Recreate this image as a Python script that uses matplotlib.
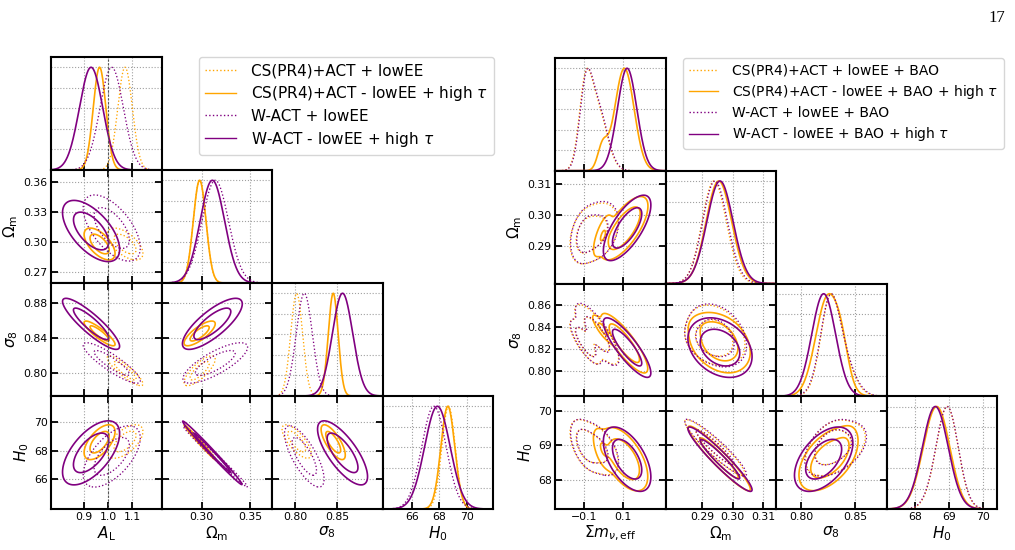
import numpy as np
import matplotlib
matplotlib.use('Agg')
import matplotlib.pyplot as plt
from matplotlib.lines import Line2D

W, H = 1015, 550

# ---------------- data ----------------
colors = ['#FFA500', '#FFA500', '#800080', '#800080']
styles = [':', '-', ':', '-']

left_names = ['CS(PR4)+ACT + lowEE', r'CS(PR4)+ACT - lowEE + high $\tau$',
              'W-ACT + lowEE', r'W-ACT - lowEE + high $\tau$']
left_labels = [r'$A_{\rm L}$', r'$\Omega_{\rm m}$', r'$\sigma_8$', r'$H_0$']
left_limits = [(0.765, 1.22), (0.259, 0.372), (0.773, 0.903), (63.9, 71.85)]
left_xticks = [[0.9, 1.0, 1.1], [0.30, 0.35], [0.80, 0.85], [66, 68, 70]]
left_yticks = [[], [0.27, 0.30, 0.33, 0.36], [0.80, 0.84, 0.88], [66, 68, 70]]
left_weights = [[1.0], [1.0], [1.0], [1.0]]
left_means = [[[1.07, 0.298, 0.802, 68.65]],
              [[0.965, 0.298, 0.845, 68.6]],
              [[1.015, 0.314, 0.811, 67.6]],
              [[0.93, 0.311, 0.856, 67.85]]]
left_sigmas = [[[0.03, 0.0065, 0.007, 0.48]],
               [[0.026, 0.0065, 0.0058, 0.5]],
               [[0.048, 0.0135, 0.0095, 0.88]],
               [[0.048, 0.0125, 0.012, 0.92]]]
left_corr_all = [[1.0, -0.6, -0.88, 0.6],
                 [-0.6, 1.0, 0.78, -0.993],
                 [-0.88, 0.78, 1.0, -0.74],
                 [0.6, -0.993, -0.74, 1.0]]
left_corrs = [left_corr_all] * 4

right_names = ['CS(PR4)+ACT + lowEE + BAO', r'CS(PR4)+ACT - lowEE + BAO + high $\tau$',
               'W-ACT + lowEE + BAO', r'W-ACT - lowEE + BAO + high $\tau$']
right_labels = [r'$\Sigma m_{\nu,\rm eff}$', r'$\Omega_{\rm m}$', r'$\sigma_8$', r'$H_0$']
right_limits = [(-0.25, 0.32), (0.2779, 0.3142), (0.777, 0.879), (67.16, 70.42)]
right_xticks = [[-0.1, 0.1], [0.29, 0.30, 0.31], [0.80, 0.85], [68, 69, 70]]
right_yticks = [[], [0.29, 0.30, 0.31], [0.80, 0.82, 0.84, 0.86], [68, 69, 70]]
right_weights = [[0.6, 0.4], [0.9, 0.1], [0.6, 0.4], [1.0]]
right_means = [[[-0.035, 0.2945, 0.833, 68.9], [-0.095, 0.2932, 0.826, 69.0]],
               [[0.108, 0.2957, 0.825, 68.6], [-0.005, 0.2935, 0.838, 68.9]],
               [[-0.032, 0.2948, 0.833, 68.9], [-0.092, 0.2935, 0.826, 69.0]],
               [[0.122, 0.2958, 0.821, 68.6]]]
right_sigmas = [[[0.05, 0.0042, 0.012, 0.34], [0.032, 0.0036, 0.008, 0.3]],
                [[0.05, 0.0042, 0.0112, 0.38], [0.025, 0.0035, 0.006, 0.3]],
                [[0.05, 0.0043, 0.0125, 0.35], [0.032, 0.0037, 0.0082, 0.3]],
                [[0.05, 0.0043, 0.011, 0.38]]]
right_corr_dotted = [[1.0, 0.3, -0.8, -0.5],
                     [0.3, 1.0, -0.3, -0.93],
                     [-0.8, -0.3, 1.0, 0.45],
                     [-0.5, -0.93, 0.45, 1.0]]
right_corr_solid = [[1.0, 0.7, -0.85, -0.55],
                    [0.7, 1.0, -0.3, -0.95],
                    [-0.85, -0.3, 1.0, 0.5],
                    [-0.55, -0.95, 0.5, 1.0]]
right_corrs = [right_corr_dotted, right_corr_solid, right_corr_dotted, right_corr_solid]


def gauss1(x, m, s):
    return np.exp(-0.5 * ((x - m) / s) ** 2) / s


def gauss2(X, Y, mx, my, sx, sy, r):
    dx = (X - mx) / sx
    dy = (Y - my) / sy
    z = (dx * dx - 2 * r * dx * dy + dy * dy) / (1 - r * r)
    return np.exp(-0.5 * z) / (sx * sy * np.sqrt(1 - r * r))


def hpd_levels(Z, probs=(0.95, 0.68)):
    z = np.sort(Z.ravel())[::-1]
    c = np.cumsum(z)
    c /= c[-1]
    return [z[np.searchsorted(c, p)] for p in probs]


def line_width(k):
    return 1.2 if styles[k] == '-' else 0.95


fig = plt.figure(figsize=(W / 100, H / 100), dpi=100)


def style_axes(ax):
    for sp in ax.spines.values():
        sp.set_linewidth(1.5)
    ax.grid(True, ls=':', color='#a0a0a0', lw=0.8)
    ax.set_axisbelow(True)


def draw_triangle(x0, y0, pw, ph, labels, limits, xticks, yticks,
                  weights, means, sigmas, corrs, vline=None):
    n = len(labels)
    for row in range(n):
        for col in range(row + 1):
            ax = fig.add_axes([(x0 + col * pw) / W, 1 - (y0 + (row + 1) * ph) / H,
                               pw / W, ph / H])
            style_axes(ax)
            lo, hi = limits[col]
            if row == col:
                x = np.linspace(lo, hi, 500)
                for k in range(4):
                    p = sum(w * gauss1(x, m[col], s[col])
                            for w, m, s in zip(weights[k], means[k], sigmas[k]))
                    ax.plot(x, p / p.max(), color=colors[k], ls=styles[k], lw=line_width(k))
                ax.set_ylim(0, 1.1)
                ax.set_yticks([0.2, 0.4, 0.6, 0.8, 1.0])
                ax.tick_params(axis='y', length=0, labelleft=False)
                ax.tick_params(axis='x', direction='in', length=5, width=1.3,
                               bottom=True, top=False)
            else:
                ylo, yhi = limits[row]
                gx = np.linspace(lo - 0.3 * (hi - lo), hi + 0.3 * (hi - lo), 300)
                gy = np.linspace(ylo - 0.3 * (yhi - ylo), yhi + 0.3 * (yhi - ylo), 300)
                X, Y = np.meshgrid(gx, gy)
                for k in range(4):
                    c = corrs[k]
                    Z = sum(w * gauss2(X, Y, m[col], m[row], s[col], s[row], c[col][row])
                            for w, m, s in zip(weights[k], means[k], sigmas[k]))
                    ax.contour(X, Y, Z, levels=hpd_levels(Z), colors=colors[k],
                               linestyles=styles[k], linewidths=line_width(k))
                ax.set_ylim(ylo, yhi)
                ax.set_yticks(yticks[row])
                ax.tick_params(direction='in', length=5, width=1.3,
                               top=True, right=True, labelsize=7.8, pad=2.5)
                if col == 0:
                    ax.set_ylabel(labels[row], fontsize=11, labelpad=2)
                else:
                    ax.tick_params(labelleft=False)
            ax.set_xlim(lo, hi)
            ax.set_xticks(xticks[col])
            ax.tick_params(axis='x', labelsize=7.8, pad=2.5)
            if row == n - 1:
                ax.set_xlabel(labels[col], fontsize=11, labelpad=1)
            else:
                ax.tick_params(labelbottom=False)
            if vline is not None and col == 0:
                ax.axvline(vline, color='#555555', ls=(0, (2, 1.5)), lw=0.8)


draw_triangle(51, 57, 110.5, 113, left_labels, left_limits, left_xticks, left_yticks,
              left_weights, left_means, left_sigmas, left_corrs, vline=1.0)
draw_triangle(555, 58, 110.5, 112.75, right_labels, right_limits, right_xticks, right_yticks,
              right_weights, right_means, right_sigmas, right_corrs)

handles = [Line2D([], [], color=colors[k], ls=styles[k], lw=1.0) for k in range(4)]
fig.legend(handles, left_names, loc='upper left',
           bbox_to_anchor=(199 / W, 1 - 57 / H), borderaxespad=0, fontsize=11,
           handlelength=2.0, handletextpad=1.0, labelspacing=0.38)
fig.legend(handles, right_names, loc='upper left',
           bbox_to_anchor=(683 / W, 1 - 58 / H), borderaxespad=0, fontsize=10,
           handlelength=2.1, handletextpad=1.0, labelspacing=0.38)

fig.text(1005 / W, 1 - 18 / H, '17', ha='right', va='center', fontsize=12,
         family='Liberation Serif')

fig.savefig('out.png', dpi=100)
